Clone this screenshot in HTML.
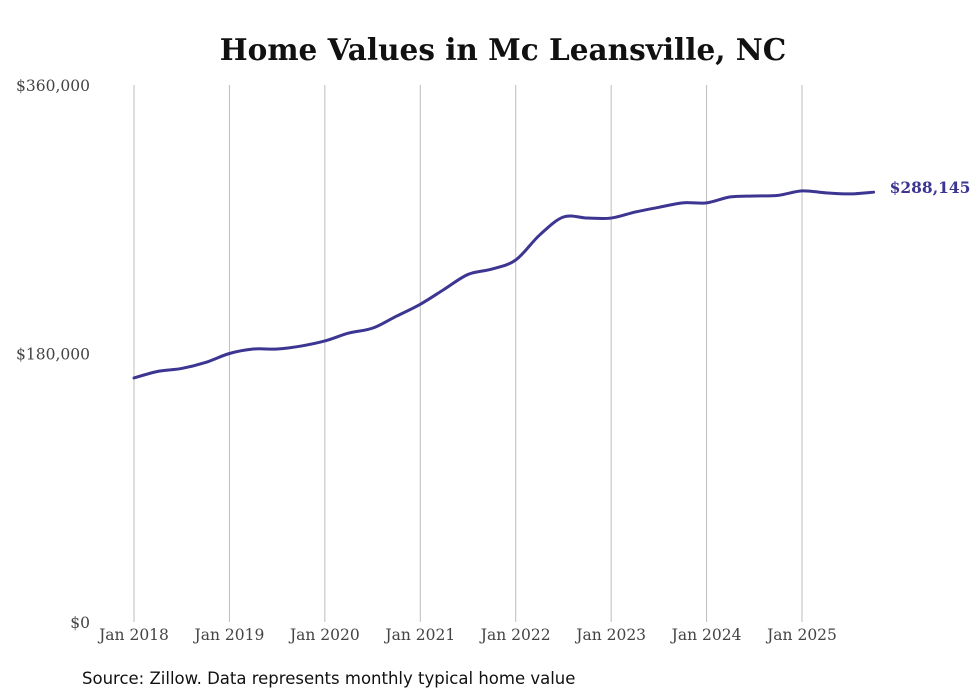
<!DOCTYPE html>
<html><head><meta charset="utf-8">
<style>
body{margin:0;background:#fff;}
svg{display:block;}
</style></head>
<body>
<svg id="chart" width="980" height="699" viewBox="0 0 980 699">
<rect width="980" height="699" fill="#fff"/>
<text x="503" y="60" text-anchor="middle" font-family="'DejaVu Serif','Liberation Serif',serif" font-weight="bold" font-size="29.5" fill="#111">Home Values in Mc Leansville, NC</text>
<g id="grid"></g>
<g id="yaxis"></g>
<g id="xaxis"></g>
<path id="line" fill="none" stroke="#3d3592" stroke-width="3" stroke-linejoin="round" stroke-linecap="round"/>
<text id="endlabel" font-family="'DejaVu Serif','Liberation Serif',serif" font-weight="bold" font-size="15.5" fill="#3d3592"></text>
<text x="82" y="684" font-family="'DejaVu Sans','Liberation Sans',sans-serif" font-size="16.5" fill="#111">Source: Zillow. Data represents monthly typical home value</text>
</svg>
<script>
const monthIndex=[0,3,6,9,12,15,18,21,24,27,30,33,36,39,42,45,48,51,54,57,60,63,66,69,72,75,78,81,84,87,90,93];
const values=[163600,168000,170000,174000,180000,183000,183000,185000,188400,193700,197000,205000,213000,223000,233000,236600,242700,259400,271500,270800,270800,274800,278000,281000,281000,285000,285600,286000,289000,287700,287000,288145];
const xTickLabels=["Jan 2018","Jan 2019","Jan 2020","Jan 2021","Jan 2022","Jan 2023","Jan 2024","Jan 2025"];
const yTicks=[0,180000,360000];
const yTickLabels=["$0","$180,000","$360,000"];
const endLabel="$288,145";
const ns="http://www.w3.org/2000/svg";
const x0=134,pxPerMonth=(802-134)/84;
const xScale=m=>x0+m*pxPerMonth;
const yScale=v=>622-v/360000*537;
function mk(tag,attrs,parent){const e=document.createElementNS(ns,tag);for(const k in attrs)e.setAttribute(k,attrs[k]);parent.appendChild(e);return e;}
const grid=document.getElementById('grid'),xa=document.getElementById('xaxis'),ya=document.getElementById('yaxis');
xTickLabels.forEach((l,i)=>{
  const x=xScale(i*12);
  const g=mk('line',{x1:x,x2:x,y1:85,y2:622,stroke:'#bdbdbd','stroke-width':1},grid);
  
  
  const t=mk('text',{x:x,y:640,'text-anchor':'middle','font-family':"'DejaVu Serif','Liberation Serif',serif",'font-size':15.5,fill:'#444'},xa);
  t.textContent=l;
  
  
});
yTicks.forEach((v,i)=>{
  const t=mk('text',{x:90,y:yScale(v)+6,'text-anchor':'end','font-family':"'DejaVu Serif','Liberation Serif',serif",'font-size':15.5,fill:'#444'},ya);
  t.textContent=yTickLabels[i];
  
  
});
const pts=values.map((v,i)=>[xScale(monthIndex[i]),yScale(v)]);
let d='M'+pts[0][0]+','+pts[0][1];
for(let i=1;i<pts.length;i++){
  const p0=pts[Math.max(i-2,0)],p1=pts[i-1],p2=pts[i],p3=pts[Math.min(i+1,pts.length-1)];
  const c1x=p1[0]+(p2[0]-p0[0])/6,c1y=p1[1]+(p2[1]-p0[1])/6,c2x=p2[0]-(p3[0]-p1[0])/6,c2y=p2[1]-(p3[1]-p1[1])/6;
  d+=` C${c1x},${c1y} ${c2x},${c2y} ${p2[0]},${p2[1]}`;
}
document.getElementById('line').setAttribute('d',d);
const last=pts[pts.length-1];
const el=document.getElementById('endlabel');
el.setAttribute('x',last[0]+16);el.setAttribute('y',last[1]+1);el.textContent=endLabel;
</script>
</body></html>
